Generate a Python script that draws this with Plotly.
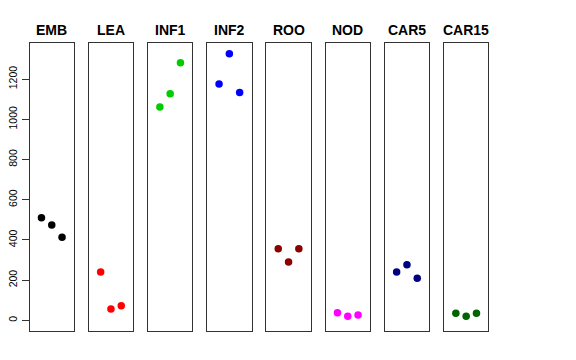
import plotly.graph_objects as go

groups = ["EMB", "LEA", "INF1", "INF2", "ROO", "NOD", "CAR5", "CAR15"]
colors = ["#000000", "#FF0000", "#00CD00", "#0000FF", "#8B0000", "#FF00FF", "#000080", "#006400"]
rep_x = [1, 2, 3]
values = {
    "EMB": [510, 474, 413],
    "LEA": [240, 56, 73],
    "INF1": [1061, 1127, 1282],
    "INF2": [1176, 1326, 1134],
    "ROO": [356, 290, 356],
    "NOD": [38, 21, 26],
    "CAR5": [240, 277, 210],
    "CAR15": [35, 21, 35],
}
y_ticks = [0, 200, 400, 600, 800, 1000, 1200]

# page body has an 8px margin; figure is sized to fit inside it
OFF = 8
W, H = 560, 344
left0 = 29.5
pitch = 59.2
pw = 44.5
y_bottom, y_top = 331, 43


def fx(p):
    return (p - OFF) / W


def fy(p):
    return 1 - (p - OFF) / H


fig = go.Figure()
layout = dict(
    width=W, height=H, margin=dict(l=0, r=0, t=0, b=0, autoexpand=False),
    paper_bgcolor="white", plot_bgcolor="white", showlegend=False,
    font=dict(family="Liberation Sans, Arial, sans-serif", color="black"),
    annotations=[],
)
for i, g in enumerate(groups):
    xa = "x" if i == 0 else f"x{i+1}"
    ya = "y" if i == 0 else f"y{i+1}"
    fig.add_trace(go.Scatter(
        x=rep_x, y=values[g], mode="markers", xaxis=xa, yaxis=ya,
        marker=dict(color=colors[i], size=7.5, line=dict(width=0)),
        hoverinfo="skip",
    ))
    x0 = fx(left0 + i * pitch)
    x1 = fx(left0 + i * pitch + pw)
    key_x = "xaxis" if i == 0 else f"xaxis{i+1}"
    key_y = "yaxis" if i == 0 else f"yaxis{i+1}"
    layout[key_x] = dict(domain=[x0, x1], range=[-0.16, 4.16], anchor=ya,
                         showgrid=False, zeroline=False, showticklabels=False,
                         ticks="", showline=True, mirror=True, automargin=False,
                         linecolor="#333333", linewidth=1)
    ydict = dict(domain=[fy(y_bottom), fy(y_top)], range=[-53, 1380],
                 anchor=xa, showgrid=False, zeroline=False, showline=True,
                 mirror=True, automargin=False, linecolor="#333333", linewidth=1)
    if i == 0:
        ydict.update(tickvals=y_ticks, ticktext=[str(v) for v in y_ticks],
                     ticks="outside", ticklen=7, tickcolor="#333333",
                     tickangle=-90, tickfont=dict(size=10.5, color="black"),
                     showticklabels=True)
    else:
        ydict.update(showticklabels=False, ticks="")
    layout[key_y] = ydict
    layout["annotations"].append(dict(
        text=f"<b>{g}</b>", x=(x0 + x1) / 2, y=fy(29.5),
        xref="paper", yref="paper", showarrow=False,
        xanchor="center", yanchor="middle", font=dict(size=14, color="black"),
    ))

fig.update_layout(**layout)
fig.write_html("out.html")
